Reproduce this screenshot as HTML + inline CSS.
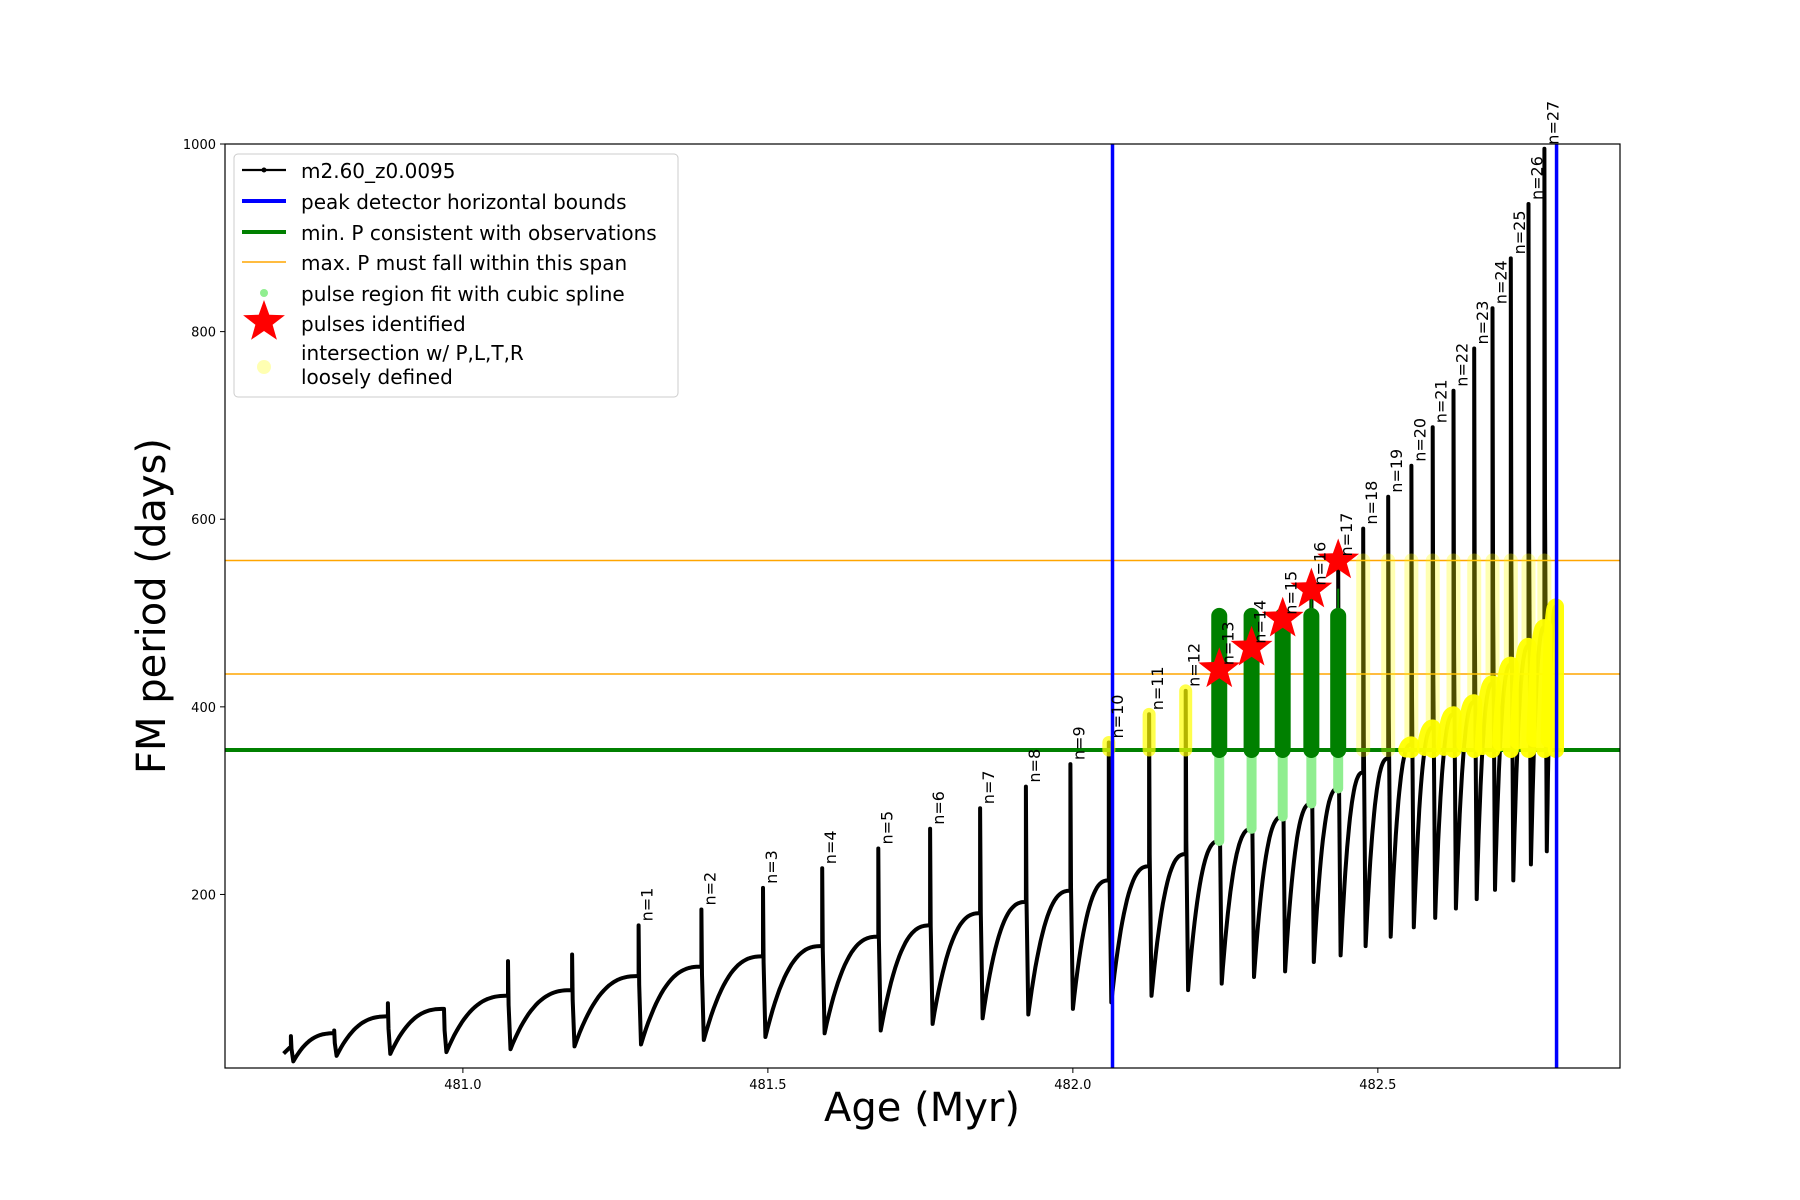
<!DOCTYPE html>
<html><head><meta charset="utf-8"><style>
html,body{margin:0;padding:0;background:#fff;}
svg{display:block;font-family:"DejaVu Sans","Liberation Sans",sans-serif;}
</style></head><body>
<svg id="chart" width="1800" height="1200" viewBox="0 0 1800 1200" xmlns="http://www.w3.org/2000/svg">
<defs><clipPath id="plotclip"><rect x="225" y="144" width="1395" height="924"/></clipPath></defs>
<rect width="1800" height="1200" fill="#fff"/>
<g id="plot" clip-path="url(#plotclip)"></g>
<rect x="225" y="144" width="1395" height="924" fill="none" stroke="#000" stroke-width="1.2"/>
<g id="axes"></g>
<text x="922" y="1121" font-size="40" text-anchor="middle">Age (Myr)</text>
<text transform="translate(165,606) rotate(-90)" font-size="40" text-anchor="middle">FM period (days)</text>
<g id="legend">
<rect x="234" y="154" width="444" height="243" rx="4" fill="#fff" fill-opacity="0.85" stroke="#ccc"/>
<g><line x1="242" y1="170" x2="286" y2="170" stroke="#000" stroke-width="2.2"/><circle cx="264" cy="170" r="2.5"/><text x="301" y="178" font-size="20">m2.60_z0.0095</text></g>
<g><line x1="242" y1="201" x2="286" y2="201" stroke="#0000ff" stroke-width="4"/><text x="301" y="209" font-size="20">peak detector horizontal bounds</text></g>
<g><line x1="242" y1="232" x2="286" y2="232" stroke="#008000" stroke-width="4"/><text x="301" y="240" font-size="20">min. P consistent with observations</text></g>
<g><line x1="242" y1="262" x2="286" y2="262" stroke="#ffa500" stroke-width="1.5"/><text x="301" y="270" font-size="20">max. P must fall within this span</text></g>
<g><circle cx="264" cy="293" r="4" fill="#90ee90"/><text x="301" y="301" font-size="20">pulse region fit with cubic spline</text></g>
<g><polygon id="legstar" fill="#ff0000"/><text x="301" y="331" font-size="20">pulses identified</text></g>
<g><circle cx="264" cy="367" r="7" fill="#ffff00" fill-opacity="0.3"/><text x="301" y="360" font-size="20">intersection w/ P,L,T,R</text><text x="301" y="384" font-size="20">loosely defined</text></g>
</g>
</svg>
<script>
// ---- data ----
const pulseAges=[480.718,480.789,480.877,480.969,481.074,481.179,481.288,481.391,481.492,481.589,481.681,481.766,481.848,481.923,481.996,482.059,482.125,482.185,482.240,482.293,482.344,482.391,482.435,482.476,482.517,482.555,482.590,482.624,482.658,482.688,482.718,482.747,482.773];
const pulsePeaks=[49,55,84,78,129,136,167,184,207,228,249,270,292,315,339,362,392,417,440,463,494,525,556,590,624,657,698,737,782,825,878,936,995];
const prePulse=[38,52,70,78,92,98,113,123,134,145,155,167,180,192,204,215,230,243,257,270,283,297,313,330,345,360,378,392,405,425,445,465,485];
const troughs=[22,28,30,32,35,38,40,45,48,52,55,62,68,72,78,85,92,98,105,112,118,128,135,145,155,165,175,185,195,205,215,232,246];
const pulseLabels=["","","","","","","n=1","n=2","n=3","n=4","n=5","n=6","n=7","n=8","n=9","n=10","n=11","n=12","n=13","n=14","n=15","n=16","n=17","n=18","n=19","n=20","n=21","n=22","n=23","n=24","n=25","n=26","n=27"];
const endAge=[482.792];
const endValue=[507];
const boundAges=[482.065,482.793];
const minP=[354];
const maxPSpan=[435,556];
const identified=[18,19,20,21,22];
const greenTop=[497,497,497,497,497];
const xTicks=[481.0,481.5,482.0,482.5];
const xTickLabels=["481.0","481.5","482.0","482.5"];
const yTicks=[200,400,600,800,1000];
const yTickLabels=["200","400","600","800","1000"];
// ---- scales ----
const X0=225,X1=1620,Y0=144,Y1=1068,AMIN=480.61,AMAX=482.897,VMIN=15,VMAX=1000;
const sx=a=>X0+(a-AMIN)/(AMAX-AMIN)*(X1-X0);
const sy=v=>Y1-(v-VMIN)/(VMAX-VMIN)*(Y1-Y0);
const NS="http://www.w3.org/2000/svg";
const plot=document.getElementById('plot'),axes=document.getElementById('axes');
function mk(tag,at,parent){const e=document.createElementNS(NS,tag);for(const k in at)e.setAttribute(k,at[k]);(parent||plot).appendChild(e);return e;}
function starPts(cx,cy,R,r){let p=[];for(let i=0;i<10;i++){const ang=-Math.PI/2+i*Math.PI/5,rr=i%2?r:R;p.push((cx+rr*Math.cos(ang)).toFixed(1)+','+(cy+rr*Math.sin(ang)).toFixed(1));}return p.join(' ');}
document.getElementById('legstar').setAttribute('points',starPts(264,322,22,9));
// ---- build curve ----
let pts=[],rise=[];
pts.push([pulseAges[0]-0.012,prePulse[0]*0.8]);
for(let i=0;i<pulseAges.length;i++){
  const a=pulseAges[i];
  pts.push([a,prePulse[i]]);pts.push([a,pulsePeaks[i]]);pts.push([a+0.001,(pulsePeaks[i]+troughs[i])/2]);
  pts.push([a+0.004,troughs[i]]);
  const na=i+1<pulseAges.length?pulseAges[i+1]:endAge[0];
  const nv=i+1<pulseAges.length?prePulse[i+1]:endValue[0];
  let seg=[];
  for(let k=0;k<=24;k++){const s=k/24;const t=a+0.004+(na-a-0.004)*s;const v=troughs[i]+(nv-troughs[i])*(1-Math.pow(1-s,2.6));pts.push([t,v]);seg.push([t,v]);}
  rise.push(seg);
}
const d=pts.map((p,i)=>(i?'L':'M')+sx(p[0]).toFixed(1)+','+sy(p[1]).toFixed(1)).join('');
const curve=mk('path',{d:d,fill:'none',stroke:'#000','stroke-width':4,'stroke-linejoin':'round'});


// ---- reference lines ----
const gl=mk('line',{x1:X0,x2:X1,y1:sy(minP[0]),y2:sy(minP[0]),stroke:'#008000','stroke-width':4});


maxPSpan.forEach(v=>{const l=mk('line',{x1:X0,x2:X1,y1:sy(v),y2:sy(v),stroke:'#ffa500','stroke-width':1.6});

});
// ---- yellow/green pulses ----
for(let i=15;i<pulseAges.length;i++){
  const x=sx(pulseAges[i]);
  if(i>=15&&i<=17){const l=mk('line',{x1:x,x2:x,y1:sy(minP[0]),y2:sy(pulsePeaks[i]),stroke:'#ffff00','stroke-opacity':0.7,'stroke-width':13,'stroke-linecap':'round'});
    
    }
  if(i>=23){const l=mk('line',{x1:x,x2:x,y1:sy(minP[0]),y2:sy(maxPSpan[1]),stroke:'#ffff00','stroke-opacity':0.3,'stroke-width':14,'stroke-linecap':'round'});
    
    }
}
identified.forEach((i,j)=>{
  const x=sx(pulseAges[i]);
  const lg=mk('line',{x1:x,x2:x,y1:sy(Math.max(prePulse[i],250)),y2:sy(minP[0]),stroke:'#90ee90','stroke-width':10,'stroke-linecap':'round'});
  
  
  const g=mk('line',{x1:x,x2:x,y1:sy(minP[0]),y2:sy(greenTop[j]),stroke:'#008000','stroke-width':16,'stroke-linecap':'round'});
  
  
  const t=mk('line',{x1:x,x2:x,y1:sy(greenTop[j]),y2:sy(Math.min(pulsePeaks[i],526)),stroke:'#008000','stroke-width':2});
  
  
});
rise.forEach(seg=>{
  const s=seg.filter(p=>p[1]>=minP[0]);
  if(s.length<2||s[0][0]<482.5)return;
  const dd=s.map((p,k)=>(k?'L':'M')+sx(p[0]).toFixed(1)+','+sy(p[1]).toFixed(1)).join('')+'L'+sx(s[s.length-1][0]).toFixed(1)+','+sy(minP[0]).toFixed(1);
  const y=mk('path',{d:dd,fill:'none',stroke:'#ffff00','stroke-width':16,'stroke-linecap':'round','stroke-linejoin':'round','stroke-opacity':0.95});
  
  
});
identified.forEach(i=>{
  const s=mk('polygon',{points:starPts(sx(pulseAges[i]),sy(pulsePeaks[i]),22,9),fill:'#ff0000'});
  
  
});
boundAges.forEach(a=>{const l=mk('line',{x1:sx(a),x2:sx(a),y1:Y0,y2:Y1,stroke:'#0000ff','stroke-width':3.5});

});
pulseLabels.forEach((t,i)=>{if(!t)return;
  const x=sx(pulseAges[i])+14,y=sy(pulsePeaks[i])-4;
  const e=mk('text',{transform:'translate('+x.toFixed(1)+','+y.toFixed(1)+') rotate(-90)','font-size':16},axes);
  e.textContent=t;
  
  
});
xTicks.forEach((v,i)=>{const x=sx(v);
  mk('line',{x1:x,x2:x,y1:Y1,y2:Y1+5,stroke:'#000'},axes);
  const t=mk('text',{x:x,y:Y1+21,'font-size':13,'text-anchor':'middle'},axes);t.textContent=xTickLabels[i];
  
  });
yTicks.forEach((v,i)=>{const y=sy(v);
  mk('line',{x1:X0-5,x2:X0,y1:y,y2:y,stroke:'#000'},axes);
  const t=mk('text',{x:X0-9,y:y+5,'font-size':13,'text-anchor':'end'},axes);t.textContent=yTickLabels[i];
  
  });
</script>
</body></html>
